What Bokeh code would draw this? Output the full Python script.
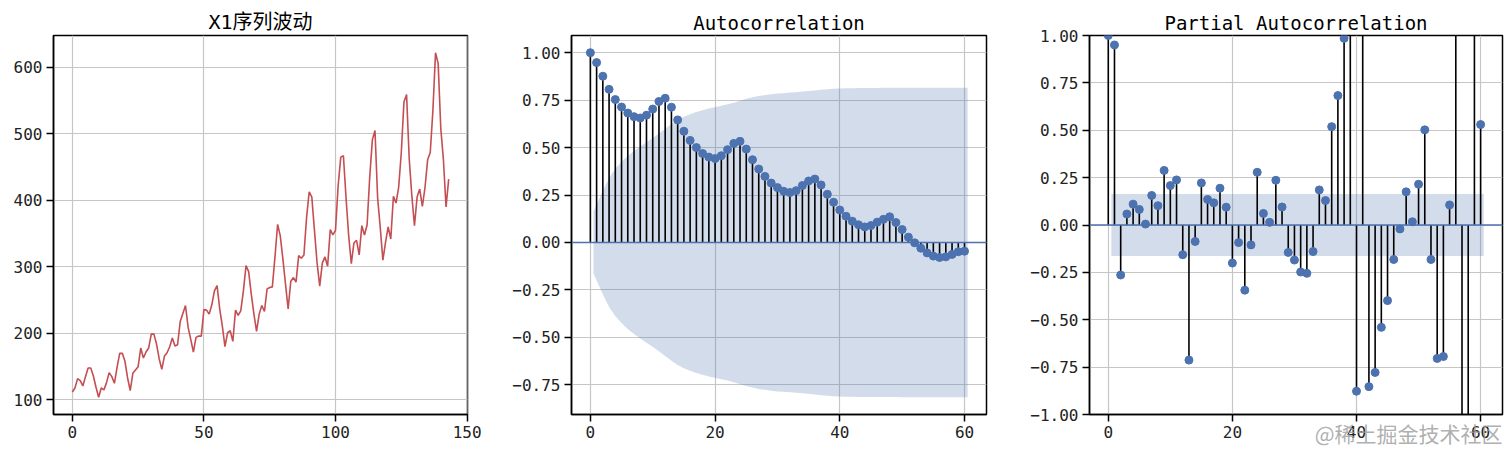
from bokeh.plotting import figure
from bokeh.layouts import row
from bokeh.models import Range1d, Span, Title
from bokeh.embed import file_html
from bokeh.resources import INLINE

# ---------------- data ----------------
passengers = [112, 118, 132, 129, 121, 135, 148, 148, 136, 119, 104, 118,
              115, 126, 141, 135, 125, 149, 170, 170, 158, 133, 114, 140,
              145, 150, 178, 163, 172, 178, 199, 199, 184, 162, 146, 166,
              171, 180, 193, 181, 183, 218, 230, 242, 209, 191, 172, 194,
              196, 196, 236, 235, 229, 243, 264, 272, 237, 211, 180, 201,
              204, 188, 235, 227, 234, 264, 302, 293, 259, 229, 203, 229,
              242, 233, 267, 269, 270, 315, 364, 347, 312, 274, 237, 278,
              284, 277, 317, 313, 318, 374, 413, 405, 355, 306, 271, 306,
              315, 301, 356, 348, 355, 422, 465, 467, 404, 347, 305, 336,
              340, 318, 362, 348, 363, 435, 491, 505, 404, 359, 310, 337,
              360, 342, 406, 396, 420, 472, 548, 559, 463, 407, 362, 405,
              417, 391, 419, 461, 472, 535, 622, 606, 508, 461, 390, 432]
months = list(range(len(passengers)))

lags = list(range(61))
acf_vals = [1.000, 0.948, 0.876, 0.807, 0.753, 0.714, 0.682, 0.663, 0.656, 0.671, 0.703,
            0.743, 0.760, 0.713, 0.646, 0.586, 0.538, 0.500, 0.469, 0.450, 0.442,
            0.457, 0.489, 0.522, 0.533, 0.492, 0.436, 0.387, 0.348, 0.313, 0.289,
            0.270, 0.263, 0.273, 0.300, 0.324, 0.334, 0.303, 0.254, 0.212, 0.171,
            0.138, 0.112, 0.093, 0.082, 0.089, 0.107, 0.122, 0.135, 0.105, 0.068,
            0.028, -0.002, -0.030, -0.055, -0.072, -0.079, -0.076, -0.063, -0.049, -0.046]
# half-width of the confidence band for lags 1..60
acf_band = [0.163, 0.273, 0.340, 0.388, 0.425, 0.456, 0.482, 0.506, 0.528, 0.550,
            0.574, 0.599, 0.624, 0.646, 0.663, 0.676, 0.688, 0.697, 0.706, 0.713,
            0.721, 0.728, 0.737, 0.747, 0.757, 0.765, 0.772, 0.777, 0.781, 0.785,
            0.787, 0.790, 0.792, 0.795, 0.798, 0.801, 0.805, 0.808, 0.810, 0.812,
            0.813, 0.813, 0.814, 0.814, 0.814, 0.814, 0.815, 0.815, 0.815, 0.816,
            0.816, 0.816, 0.816, 0.816, 0.816, 0.816, 0.816, 0.816, 0.816, 0.816]
pacf_vals = [1.000, 0.950, -0.264, 0.058, 0.110, 0.082, 0.005, 0.156, 0.102, 0.288, 0.208,
             0.238, -0.157, -0.713, -0.087, 0.222, 0.135, 0.117, 0.194, 0.094, -0.201,
             -0.093, -0.344, -0.105, 0.278, 0.061, 0.014, 0.236, 0.095, -0.145, -0.185,
             -0.248, -0.255, -0.140, 0.185, 0.129, 0.519, 0.683, 0.985, 1.8, -0.877,
             2.5, -0.853, -0.778, -0.540, -0.399, -0.182, -0.021, 0.175, 0.017, 0.215,
             0.502, -0.182, -0.704, -0.694, 0.106, 3.0, -4.0, -3.0, 5.0, 0.530]
pacf_band = 0.163

series_ticks_x = [0, 50, 100, 150]
series_ticks_y = [100, 200, 300, 400, 500, 600]
lag_ticks = [0, 20, 40, 60]
acf_ticks_y = [-0.75, -0.5, -0.25, 0.0, 0.25, 0.5, 0.75, 1.0]
pacf_ticks_y = [-1.0, -0.75, -0.5, -0.25, 0.0, 0.25, 0.5, 0.75, 1.0]

# ---------------- style ----------------
FONT = "DejaVu Sans Mono, Noto Sans CJK SC"
BLUE = "#4C72B0"
RED = "#C44E52"
GRID = "#c6c6c6"


def make_fig(title, x_range, y_range, left, right, fw):
    p = figure(title=title, x_range=Range1d(*x_range), y_range=Range1d(*y_range),
               frame_width=fw, frame_height=379, output_backend="svg",
               toolbar_location=None, min_border_left=left, min_border_right=right,
               min_border_top=35, min_border_bottom=37)
    p.title.text_font = FONT
    p.title.text_font_size = "19px"
    p.title.text_font_style = "normal"
    p.title.align = "center"
    p.title.text_color = "black"
    p.title.standoff = 4
    p.outline_line_color = "black"
    p.outline_line_width = 1.5
    p.outline_line_alpha = 1.0
    p.background_fill_color = "white"
    p.border_fill_color = "white"
    for ax in (p.xaxis[0], p.yaxis[0]):
        ax.axis_line_color = "black"
        ax.axis_line_width = 1.5
        ax.major_tick_line_color = "black"
        ax.major_tick_line_width = 1.5
        ax.major_tick_out = 7
        ax.major_tick_in = 0
        ax.minor_tick_line_color = None
        ax.major_label_text_font = FONT
        ax.major_label_text_font_size = "16px"
        ax.major_label_text_color = "#222222"
        ax.major_label_standoff = 4
    p.xgrid.grid_line_color = GRID
    p.ygrid.grid_line_color = GRID
    p.xgrid.grid_line_width = 1.2
    p.ygrid.grid_line_width = 1.2
    return p


def fmt(t):
    return f"{t:.2f}".replace("-", "\u2212")


# ---- panel 1: series ----
n = len(passengers)
xm = (n - 1) * 0.05
ym = (max(passengers) - min(passengers)) * 0.05
p1 = make_fig("X1序列波动", (-xm, n - 1 + xm), (min(passengers) - ym, max(passengers) + ym), 53, 33, 414)
p1.title.text_font_size = "20px"
p1.line(months, passengers, line_color=RED, line_width=1.6)
p1.xaxis.ticker = series_ticks_x
p1.yaxis.ticker = series_ticks_y

# ---- panel 2: ACF ----
band_x = [float(l) for l in lags[1:]]
band_x[0] -= 0.5
band_x[-1] += 0.5
ylo = -max(acf_band)
yhi = max(acf_vals)
yr = (yhi - ylo) * 0.05
p2 = make_fig("Autocorrelation", (-3.025, 63.525), (ylo - yr, yhi + yr), 71, 34, 415)
p2.varea(x=band_x, y1=[-b for b in acf_band], y2=acf_band, fill_color=BLUE, fill_alpha=0.25)
p2.segment(x0=lags, y0=[0] * len(lags), x1=lags, y1=acf_vals, line_color="black", line_width=1.6)
p2.add_layout(Span(location=0, dimension="width", line_color=BLUE, line_width=1.6))
p2.scatter(lags, acf_vals, size=8, fill_color=BLUE, line_color=BLUE)
p2.xaxis.ticker = lag_ticks
p2.yaxis.ticker = acf_ticks_y
p2.yaxis.major_label_overrides = {t: fmt(t) for t in acf_ticks_y}

# ---- panel 3: PACF ----
p3 = make_fig("Partial Autocorrelation", (-3.025, 63.525), (-1.0, 1.0), 69, 8, 413)
p3.varea(x=band_x, y1=[-pacf_band] * len(band_x), y2=[pacf_band] * len(band_x),
         fill_color=BLUE, fill_alpha=0.25)
p3.segment(x0=lags, y0=[0] * len(lags), x1=lags, y1=pacf_vals, line_color="black", line_width=1.6)
p3.add_layout(Span(location=0, dimension="width", line_color=BLUE, line_width=1.6))
p3.scatter(lags, pacf_vals, size=8, fill_color=BLUE, line_color=BLUE)
p3.xaxis.ticker = lag_ticks
p3.yaxis.ticker = pacf_ticks_y
p3.yaxis.major_label_overrides = {t: fmt(t) for t in pacf_ticks_y}

# watermark placed as a zero-height panel next to the frame
wm = Title(text="@稀土掘金技术社区", align="right", text_font="Noto Sans CJK SC",
           text_font_size="21px", text_color="#9a9a9a", text_alpha=0.8,
           text_font_style="normal", vertical_align="bottom", standoff=-66)
p3.below = [wm] + list(p3.below)

layout = row(p1, p2, p3)
open("out.html", "w").write(file_html(layout, INLINE))
